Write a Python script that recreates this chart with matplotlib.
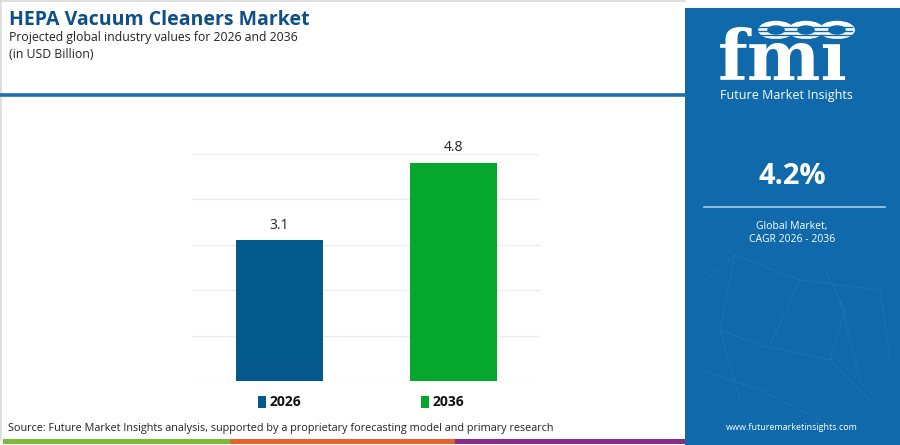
import matplotlib.pyplot as plt
from matplotlib.patches import Rectangle, Circle
from matplotlib.lines import Line2D

# data
years = ['2026', '2036']
values = [3.1, 4.8]
bar_colors = ['#03588c', '#05a82c']
cagr = '4.2%'

W, H = 900, 445
panel_blue = '#0f69aa'
title_blue = '#0d4f86'


def fx(x):
    return x / W


def fy(y):
    return 1 - y / H


plt.rcParams['font.family'] = ['Open Sans', 'DejaVu Sans']
fig = plt.figure(figsize=(9, 4.45), dpi=100)
fig.patch.set_facecolor('white')

# frame and decorations
fig.add_artist(Line2D([fx(0), fx(685)], [fy(1), fy(1)], color='#d9d9d9', lw=1.2))
fig.add_artist(Line2D([fx(1), fx(1)], [fy(0), fy(440)], color='#d9d9d9', lw=1.2))
fig.add_artist(Line2D([fx(0), fx(685)], [fy(95), fy(95)], color='#1f6fae', lw=2.6))
for x0, x1, c in [(3, 230, '#7dba3c'), (230, 455, '#e8602c'), (455, 686, '#8a2a8c')]:
    fig.add_artist(Rectangle((fx(x0), fy(444)), fx(x1 - x0), 5 / H, color=c, lw=0))

# right panel
fig.add_artist(Rectangle((fx(685), 0), fx(215), fy(8), color=panel_blue, lw=0))

# faint network lines in panel
net = [(700, 285, 735, 255), (735, 255, 800, 280), (800, 280, 880, 290), (735, 255, 720, 330),
       (720, 330, 760, 345), (760, 345, 830, 360), (830, 360, 870, 400), (800, 280, 770, 345),
       (720, 330, 740, 400), (840, 300, 860, 380), (880, 290, 890, 360), (760, 390, 820, 420),
       (700, 370, 760, 390), (820, 260, 845, 310), (845, 310, 830, 360)]
for x0, y0, x1, y1 in net:
    fig.add_artist(Line2D([fx(x0), fx(x1)], [fy(y0), fy(y1)], color='#5a9fd0', lw=0.5, alpha=0.25))

# logo
fig.text(fx(783), fy(80), 'fmı', family='DejaVu Serif', weight='bold', fontsize=50,
         color='white', ha='center', va='baseline')
for yy in range(27, 84, 4):
    fig.add_artist(Line2D([fx(716), fx(852)], [fy(yy), fy(yy)], color=panel_blue, lw=1.0))
for cx in [776, 806, 837]:
    fig.add_artist(Circle((fx(cx), fy(30)), 8.5 / H, color='white', transform=fig.transFigure))
    fig.add_artist(Circle((fx(cx), fy(30)), 4 / H, color=panel_blue, transform=fig.transFigure))
fig.text(fx(786), fy(96), 'Future Market Insights', fontsize=9, color='white',
         ha='center', va='center')

fig.text(fx(792), fy(176), cagr, fontsize=21, weight='bold', color='white', ha='center', va='center')
fig.add_artist(Line2D([fx(704), fx(885)], [fy(207), fy(207)], color='#a8cbe6', lw=1.2))
fig.text(fx(792), fy(226), 'Global Market,', fontsize=7.5, color='white', ha='center', va='center')
fig.text(fx(792), fy(239), 'CAGR 2026 - 2036', fontsize=7.5, color='white', ha='center', va='center')
fig.text(fx(792), fy(428), 'www.futuremarketinsights.com', fontsize=6.5, color='white',
         ha='center', va='center')

# titles
fig.text(fx(9), fy(20), 'HEPA Vacuum Cleaners Market', fontsize=14, weight='bold',
         color=title_blue, ha='left', va='center')
fig.text(fx(9), fy(38), 'Projected global industry values for 2026 and 2036', fontsize=8.8,
         color='#222222', ha='left', va='center')
fig.text(fx(9), fy(55), '(in USD Billion)', fontsize=8.8, color='#222222', ha='left', va='center')

# bar chart
ax = fig.add_axes([fx(192), fy(381), fx(540 - 192), (381 - 154) / H])
x = list(range(len(years)))
bars = ax.bar(x, values, width=0.5, color=bar_colors, zorder=3)
ax.set_xlim(-0.5, 1.5)
ax.set_ylim(0, 5)
ax.set_yticks([0, 1, 2, 3, 4, 5])
ax.yaxis.grid(True, color='#ececec', lw=1, zorder=0)
ax.tick_params(left=False, bottom=False, labelleft=False, labelbottom=False)
for s in ax.spines.values():
    s.set_visible(False)
for b, v in zip(bars, values):
    ax.text(b.get_x() + b.get_width() / 2, v + 0.17, f'{v}', ha='center', va='bottom',
            fontsize=10, color='#222222')

# legend
for lx, lab, c in [(258, years[0], bar_colors[0]), (421, years[1], bar_colors[1])]:
    fig.add_artist(Rectangle((fx(lx), fy(408)), fx(8), 12 / H, color=c, lw=0))
    fig.text(fx(lx + 12), fy(402), lab, fontsize=10, weight='bold', color='#111111',
             ha='left', va='center')

fig.text(fx(8), fy(429), 'Source: Future Market Insights analysis, supported by a proprietary '
         'forecasting model and primary research', fontsize=7.8, color='#222222',
         ha='left', va='center')

fig.savefig('out.png', dpi=100)
